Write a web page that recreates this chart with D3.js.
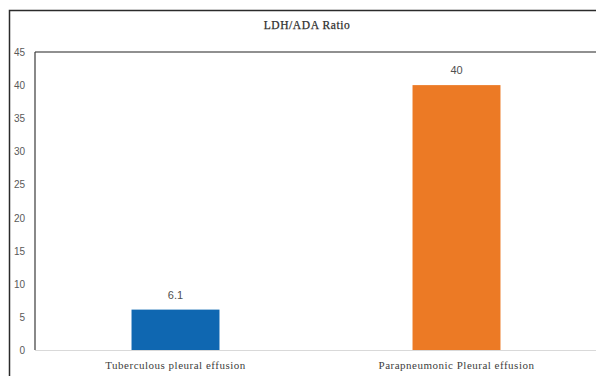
<!DOCTYPE html>
<html><head><meta charset="utf-8">
<script src="https://cdn.jsdelivr.net/npm/d3@7"></script>
<style>body{margin:0;background:#fff}svg{display:block}</style>
</head><body>
<svg id="c" width="596" height="376"></svg>
<script>
const title = "LDH/ADA Ratio";
const categories = ["Tuberculous pleural effusion", "Parapneumonic Pleural effusion"];
const values = [6.1, 40];
const colors = ["#0f67b1", "#ec7a25"];
const yTicks = [0, 5, 10, 15, 20, 25, 30, 35, 40, 45];

const svg = d3.select("#c");
const x0 = 35, x1 = 597, yTop = 52, yBot = 350;

const x = d3.scaleBand().domain(categories).range([x0, x1]).paddingInner(0.687).paddingOuter(0.3435);
const y = d3.scaleLinear().domain([0, 45]).range([yBot, yTop]);

// outer frame
svg.append("path").attr("d", "M9.5,377 V10.5 H597").attr("fill", "none").attr("stroke", "#2b2b2b").attr("stroke-width", 1.5);
// inner frame
svg.append("line").attr("x1", x0).attr("x2", 597).attr("y1", yTop).attr("y2", yTop).attr("stroke", "#6b6b6b").attr("stroke-width", 1.5);
svg.append("line").attr("x1", x0).attr("x2", x0).attr("y1", yTop).attr("y2", yBot).attr("stroke", "#3a3a3a").attr("stroke-width", 1.2);

// title
svg.append("text").attr("x", 307).attr("y", 29).attr("text-anchor", "middle")
  .attr("font-family", "Liberation Serif, Times New Roman, serif").attr("font-size", 11.5)
  .attr("letter-spacing", "0.6px")
  .attr("fill", "#2e2e2e").attr("stroke", "#2e2e2e").attr("stroke-width", 0.25).text(title);

// y axis
const yAxis = d3.axisLeft(y).tickValues(yTicks).tickSize(0).tickPadding(0);
const ga = svg.append("g").attr("transform", "translate(25,0)").call(yAxis);
ga.select(".domain").remove();
ga.selectAll("text").attr("font-family", "Liberation Sans Narrow, Liberation Sans, Arial, sans-serif")
  .attr("font-size", 10).attr("fill", "#595959").attr("dy", "0.35em");

// bars
svg.selectAll("rect.bar").data(values).join("rect").attr("class", "bar")
  .attr("x", (d, i) => x(categories[i])).attr("width", x.bandwidth())
  .attr("y", d => y(d)).attr("height", d => y(0) - y(d))
  .attr("fill", (d, i) => colors[i]);

// baseline
svg.append("line").attr("x1", x0).attr("x2", 597).attr("y1", yBot + 0.5).attr("y2", yBot + 0.5).attr("stroke", "#d9d9d9").attr("stroke-width", 1);

// value labels
svg.selectAll("text.val").data(values).join("text").attr("class", "val")
  .attr("x", (d, i) => x(categories[i]) + x.bandwidth() / 2).attr("y", d => y(d) - 11)
  .attr("text-anchor", "middle").attr("font-family", "Liberation Sans, Arial, sans-serif")
  .attr("font-size", 11).attr("fill", "#505050").text(d => d);

// x axis labels
const xAxis = d3.axisBottom(x).tickSize(0).tickPadding(0);
const gx = svg.append("g").attr("transform", `translate(0,${yBot})`).call(xAxis);
gx.select(".domain").remove();
gx.selectAll("text").attr("font-family", "Liberation Serif, Times New Roman, serif")
  .attr("font-size", 11).attr("letter-spacing", "0.5px").attr("fill", "#404040").attr("dy", "0").attr("y", 19);
</script>
</body></html>
